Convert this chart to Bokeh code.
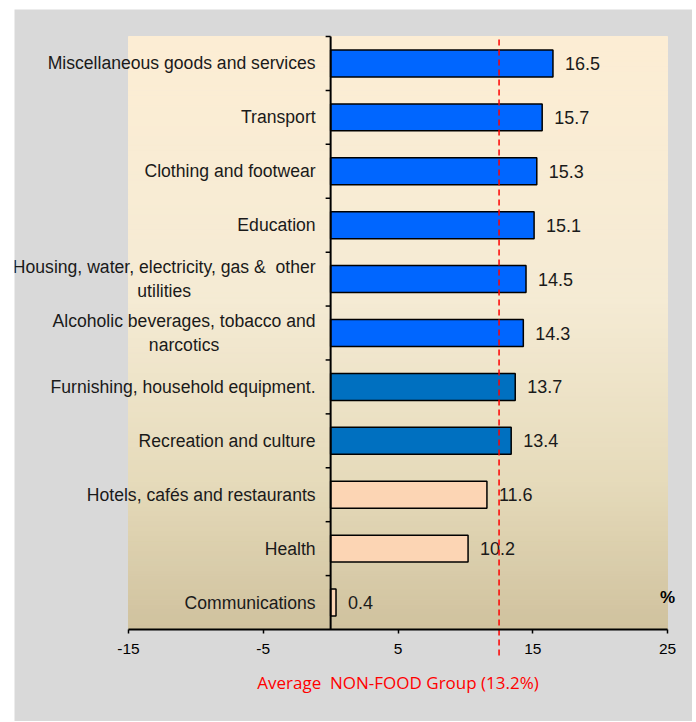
import numpy as np
from bokeh.plotting import figure
from bokeh.models import Range1d, Label, LinearAxis, FixedTicker, ColumnDataSource
from bokeh.core.properties import value
from bokeh.embed import file_html
from bokeh.resources import INLINE

# ---- data (top to bottom as in the chart) ----
categories = [
    "Miscellaneous goods and services",
    "Transport",
    "Clothing and footwear",
    "Education",
    "Housing, water, electricity, gas &\u00a0 other\nutilities",
    "Alcoholic beverages, tobacco and\nnarcotics",
    "Furnishing, household equipment.",
    "Recreation and culture",
    "Hotels, cafés and restaurants",
    "Health",
    "Communications",
]
values = [16.5, 15.7, 15.3, 15.1, 14.5, 14.3, 13.7, 13.4, 11.6, 10.2, 0.4]
bar_colors = ["#0066FF"] * 6 + ["#0070C0"] * 2 + ["#FCD5B4"] * 3
value_labels = ["16.5", "15.7", "15.3", "15.1", "14.5", "14.3", "13.7", "13.4", "11.6", "10.2", "0.4"]
x_ticks = [-15, -5, 5, 15, 25]
x_tick_labels = {-15: "-15", -5: "-5", 5: "5", 15: "15", 25: "25"}
x_min, x_max = -15, 25
avg_line = 12.5
avg_text = "Average\u00a0 NON-FOOD Group (13.2%)"
unit_text = "%"

n = len(categories)
ypos = [n - 1 - i for i in range(n)]

FONT = "Liberation Sans"

# ---- geometry: whole figure is the frame; plot area is drawn inside ----
W, H = 678, 712
PL, PR, PT, PB = 114, 25, 27, 92          # plot-area insets in px
ux = (W - PL - PR) / (x_max - x_min)      # px per x unit
uy = (H - PT - PB) / n                    # px per category
y_bot, y_top = -0.5, n - 0.5
xr = Range1d(x_min - PL / ux, x_max + PR / ux)
yr = Range1d(y_bot - PB / uy, y_top + PT / uy)

p = figure(width=W, height=H, output_backend="svg", toolbar_location=None,
           x_range=xr, y_range=yr, x_axis_location=None, y_axis_location=None,
           min_border=0, min_border_left=0, min_border_right=0,
           min_border_top=0, min_border_bottom=0)
p.margin = (9, 0, 0, 14)
p.border_fill_color = "#D9D9D9"
p.background_fill_color = "#D9D9D9"
p.outline_line_color = None
p.grid.visible = False

# ---- gradient background of the plot area ----
nb = 120
edges = np.linspace(y_bot, y_top, nb + 1)
t = (y_top - (edges[:-1] + edges[1:]) / 2) / n   # 0 at top, 1 at bottom
stops_t = [0.0, 0.45, 0.75, 1.0]
stops_c = np.array([[253, 238, 212], [245, 235, 212], [230, 219, 187], [208, 194, 158]])
cols = []
for tt in t:
    r = np.interp(tt, stops_t, stops_c[:, 0])
    g = np.interp(tt, stops_t, stops_c[:, 1])
    b = np.interp(tt, stops_t, stops_c[:, 2])
    cols.append("#%02x%02x%02x" % (int(r), int(g), int(b)))
p.quad(left=x_min, right=x_max, bottom=edges[:-1], top=edges[1:], fill_color=cols,
       line_color=cols, line_width=1)

# ---- bars ----
src = ColumnDataSource(dict(y=ypos, v=values, c=bar_colors, lab=value_labels))
p.hbar(y="y", left=0, right="v", height=0.5, fill_color="c", line_color="black",
       line_width=1.5, source=src)

# value labels
p.text(x="v", y="y", text="lab", source=src, x_offset=12, text_baseline="middle",
       text_align="left", text_font=value(FONT), text_font_size="18px",
       text_color="#1A1A1A")

# zero line and its tick marks between categories
p.segment(x0=[0], x1=[0], y0=[y_bot], y1=[y_top], line_color="black", line_width=2)
bounds = [k + 0.5 for k in range(n)]
p.segment(x0=[-5 / ux] * n, x1=[0] * n, y0=bounds, y1=bounds, line_color="black",
          line_width=1.5)

# category labels
for cat, yy in zip(categories, ypos):
    p.add_layout(Label(x=0, y=yy, x_offset=-15, text=cat, anchor="center_right",
                       text_align="center", text_baseline="middle",
                       text_font=FONT, text_font_size="17.6px", text_color="#1A1A1A",
                       text_line_height=1.2))

# average dashed line (continues a little below the axis)
p.segment(x0=[avg_line], x1=[avg_line], y0=[y_bot - 26 / uy], y1=[y_top],
          line_color="#FF0000", line_width=1.5, line_dash="6 4")
p.add_layout(Label(x=(x_min + x_max) / 2, y=y_bot - 53 / uy, text=avg_text,
                   text_align="center", text_baseline="middle", text_font="Open Sans",
                   text_font_size="17px", text_color="#FF0000"))
p.add_layout(Label(x=x_max, y=0.1, text=unit_text, text_align="center",
                   text_baseline="middle", text_font=FONT, text_font_size="17px",
                   text_font_style="bold", text_color="black"))

# x axis fixed at the bottom of the plot area
ax = LinearAxis(fixed_location=y_bot, bounds=(x_min, x_max))
ax.ticker = FixedTicker(ticks=x_ticks)
ax.major_label_overrides = x_tick_labels
ax.axis_line_color = "black"
ax.axis_line_width = 2
ax.major_tick_line_color = "black"
ax.major_tick_line_width = 1.5
ax.major_tick_in = 0
ax.major_tick_out = 4
ax.minor_tick_line_color = None
ax.major_label_text_font = FONT
ax.major_label_text_font_size = "15.5px"
ax.major_label_text_color = "black"
ax.major_label_standoff = 10
p.add_layout(ax, "below")

open("out.html", "w").write(file_html(p, INLINE))
